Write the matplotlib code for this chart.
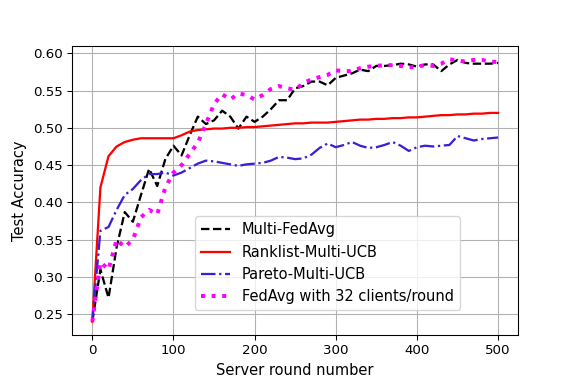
import numpy as np
import matplotlib
matplotlib.use("Agg")
import matplotlib.pyplot as plt

rounds = np.arange(0, 501, 10)

multi_fedavg = [0.24, 0.31, 0.272, 0.34, 0.387, 0.374, 0.41, 0.445, 0.422, 0.458,
                0.476, 0.463, 0.49, 0.515, 0.505, 0.51, 0.523, 0.515, 0.499, 0.515,
                0.508, 0.515, 0.525, 0.537, 0.537, 0.553, 0.556, 0.562, 0.562, 0.557,
                0.567, 0.57, 0.573, 0.578, 0.576, 0.583, 0.583, 0.584, 0.586, 0.585,
                0.582, 0.585, 0.585, 0.576, 0.585, 0.591, 0.587, 0.586, 0.586, 0.586,
                0.587]

ranklist_ucb = [0.24, 0.42, 0.462, 0.475, 0.481, 0.484, 0.486, 0.486, 0.486, 0.486,
                0.486, 0.49, 0.495, 0.497, 0.498, 0.499, 0.499, 0.5, 0.5, 0.501,
                0.501, 0.502, 0.503, 0.504, 0.505, 0.506, 0.506, 0.507, 0.507, 0.507,
                0.508, 0.509, 0.510, 0.511, 0.511, 0.512, 0.512, 0.513, 0.513, 0.514,
                0.514, 0.515, 0.516, 0.517, 0.517, 0.518, 0.518, 0.519, 0.519, 0.52,
                0.52]

pareto_ucb = [0.24, 0.362, 0.367, 0.39, 0.41, 0.418, 0.43, 0.438, 0.438, 0.44,
              0.436, 0.44, 0.446, 0.452, 0.456, 0.455, 0.453, 0.451, 0.449, 0.451,
              0.452, 0.453, 0.456, 0.461, 0.46, 0.458, 0.459, 0.464, 0.473, 0.479,
              0.474, 0.477, 0.481, 0.476, 0.473, 0.474, 0.477, 0.481, 0.476, 0.469,
              0.474, 0.476, 0.475, 0.476, 0.477, 0.489, 0.486, 0.483, 0.485, 0.486,
              0.487]

fedavg_32 = [0.24, 0.32, 0.31, 0.35, 0.34, 0.35, 0.38, 0.39, 0.384, 0.42,
             0.44, 0.45, 0.465, 0.48, 0.505, 0.532, 0.545, 0.538, 0.546, 0.544,
             0.538, 0.544, 0.552, 0.556, 0.553, 0.551, 0.56, 0.565, 0.568, 0.571,
             0.577, 0.576, 0.576, 0.58, 0.582, 0.583, 0.584, 0.584, 0.583, 0.581,
             0.582, 0.584, 0.583, 0.586, 0.592, 0.59, 0.589, 0.591, 0.591, 0.589,
             0.588]

fig, ax = plt.subplots(figsize=(6, 4), dpi=96)
fig.subplots_adjust(left=0.125, right=0.9, top=0.88, bottom=0.128)

ax.plot(rounds, multi_fedavg, "k--", lw=1.7, label="Multi-FedAvg")
ax.plot(rounds, ranklist_ucb, color="red", lw=1.7, label="Ranklist-Multi-UCB")
ax.plot(rounds, pareto_ucb, color="#3a1fd6", lw=1.7, linestyle="-.", label="Pareto-Multi-UCB")
ax.plot(rounds, fedavg_32, color="magenta", linestyle=":", linewidth=3,
        label="FedAvg with 32 clients/round")

ax.grid(True)
ax.set_xlabel("Server round number", fontsize=11)
ax.set_ylabel("Test Accuracy", fontsize=11)
ax.legend(loc="lower right", bbox_to_anchor=(0.885, 0.06), fontsize=11)

plt.savefig("out.png")
